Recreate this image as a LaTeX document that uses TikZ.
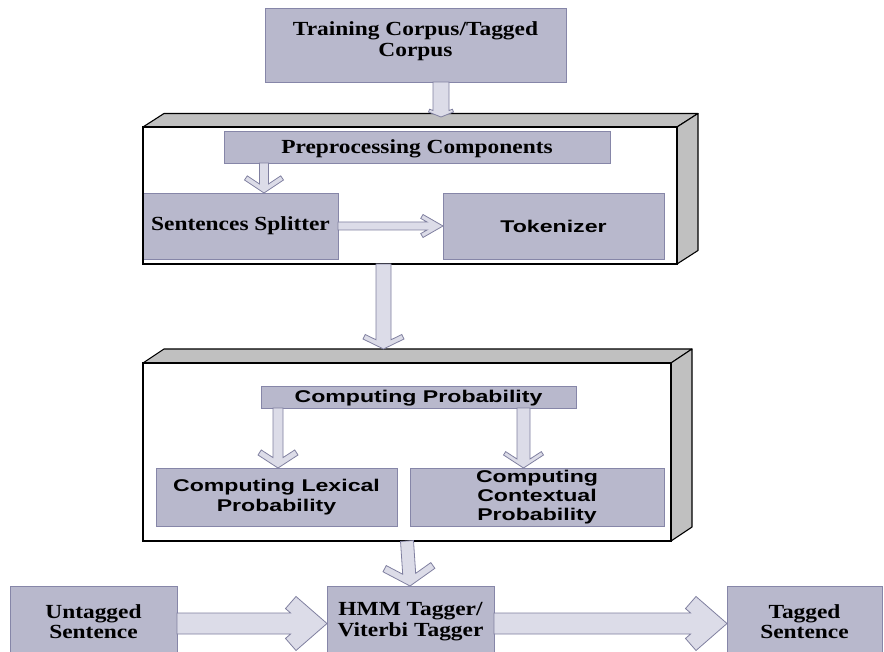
\documentclass[tikz,border=0pt]{standalone}
\usepackage{fontspec}
\setmainfont{Liberation Serif}[FakeStretch=1.17]
\newfontfamily\sansb{Liberation Sans}[FakeStretch=1.36]
\usetikzlibrary{calc}

\definecolor{boxfill}{HTML}{B8B8CC}
\definecolor{boxline}{HTML}{8686A8}
\definecolor{arrfill}{HTML}{DCDCE8}
\definecolor{arrline}{HTML}{8080A0}
\definecolor{sidegray}{HTML}{C0C0C0}

\tikzset{
  pbox/.style={draw=boxline, fill=boxfill, line width=0.8pt, inner sep=0pt, outer sep=0pt, align=center},
  serift/.style={font=\fontsize{20}{20.5}\selectfont\bfseries},
  sanst/.style={font=\sansb\fontsize{17}{19.3}\selectfont\bfseries},
  frontface/.style={fill=white, inner sep=0pt, outer sep=0pt},
  frontline/.style={draw=black, line width=1.1pt},
  sideface/.style={draw=black, fill=sidegray, line width=1.1pt, line join=round},
  blk/.style={draw=arrline, fill=arrfill, line width=0.8pt, line join=miter},
}

% #1 start, #2 tip, #3 shaft half width, #4 head half width, #5 head length, #6 chevron thickness
\newcommand\blockarrow[6]{%
  \path let \p1=(#1), \p2=(#2), \n1={atan2(\y2-\y1,\x2-\x1)}, \n2={veclen(\x2-\x1,\y2-\y1)} in
    \pgfextra{\xdef\barang{\n1}\xdef\barlen{\n2}};
  \pgfmathsetmacro\barn{sqrt((#5)*(#5)+(#4)*(#4))}%
  \pgfmathsetmacro\bsx{-((#6)*\barn+(#5)*(#3))/(#4)}%
  \pgfmathsetmacro\bbx{-(#5)-(#6)*(#4)/\barn}%
  \pgfmathsetmacro\bby{(#4)-(#6)*(#5)/\barn}%
  \begin{scope}[shift={(#2)}, rotate=\barang, x=1pt, y=1pt]
    \draw[blk] (-\barlen,#3) -- (\bsx,#3) -- (\bbx,\bby) -- (-#5,#4) -- (0,0)
      -- (-#5,-#4) -- (\bbx,-\bby) -- (\bsx,-#3) -- (-\barlen,-#3) -- cycle;
  \end{scope}}

\begin{document}
\begin{tikzpicture}[x=1pt, y=-1pt]
\clip (0,0) rectangle (884,652);
\fill[white] (0,0) rectangle (884,652);

% x positions of the arrows
\coordinate (xa) at (441,0);
\coordinate (xb) at (264,0);
\coordinate (xc) at (383.5,0);
\coordinate (xd) at (278,0);
\coordinate (xe) at (523.5,0);
\coordinate (xf) at (407,0);
\coordinate (xg) at (410,0);
\coordinate (ya) at (0,226);
\coordinate (yb) at (0,623.5);

% training corpus
\node[pbox, minimum width=301pt, minimum height=74pt] (train) at (415.5,45) {};
\node[serift, align=center, inner sep=0pt] (traintxt) at (415.5,41) {Training Corpus/Tagged\\Corpus};

% container 1
\node[frontface, minimum width=534pt, minimum height=137pt] (c1) at (410,195.5) {};
\draw[sideface] (c1.north west) -- ++(21pt,13.5pt) -- ($(c1.north east)+(21pt,13.5pt)$) -- (c1.north east) -- cycle;
\draw[sideface] (c1.north east) -- ++(21pt,13.5pt) -- ($(c1.south east)+(21pt,13.5pt)$) -- (c1.south east) -- cycle;

\node[pbox, minimum width=386pt, minimum height=32pt] (prep) at (417,147) {};
\node[serift, inner sep=0pt] (preptxt) at (417,148.5) {Preprocessing Components};
\node[pbox, serift, minimum width=195pt, minimum height=66pt] (split) at (240.5,226) {Sentences Splitter};
\node[pbox, sanst, minimum width=221pt, minimum height=66pt] (tok) at (553.5,226) {Tokenizer};
\draw[frontline] (c1.north west) rectangle (c1.south east);

% container 2
\node[frontface, minimum width=528pt, minimum height=178pt] (c2) at (407,452) {};
\draw[sideface] (c2.north west) -- ++(21pt,14pt) -- ($(c2.north east)+(21pt,14pt)$) -- (c2.north east) -- cycle;
\draw[sideface] (c2.north east) -- ++(21pt,14pt) -- ($(c2.south east)+(21pt,14pt)$) -- (c2.south east) -- cycle;
\coordinate (c2top) at ($(c2.north)+(0pt,14pt)$);

\node[pbox, minimum width=315pt, minimum height=22pt] (cprob) at (418.5,397) {};
\node[sanst, inner sep=0pt] (cprobtxt) at (418.5,398) {Computing Probability};
\node[pbox, sanst, minimum width=241pt, minimum height=58pt] (lex) at (276.5,497) {Computing Lexical\\Probability};
\node[pbox, sanst, minimum width=254pt, minimum height=58pt] (ctx) at (537,497) {Computing\\Contextual\\Probability};
\draw[frontline] (c2.north west) rectangle (c2.south east);

% bottom row
\node[pbox, minimum width=167pt, minimum height=75pt] (untag) at (93.5,623.5) {};
\node[pbox, minimum width=167pt, minimum height=75pt] (hmm) at (410.5,623.5) {};
\node[pbox, minimum width=155pt, minimum height=75pt] (tagged) at (804.5,623.5) {};
\node[serift, align=center, inner sep=0pt] (untagtxt) at (93.5,621.5) {Untagged\\Sentence};
\node[serift, align=center, inner sep=0pt] (hmmtxt) at (410.5,621.5) {HMM Tagger/\\Viterbi Tagger};
\node[serift, align=center, inner sep=0pt] (taggedtxt) at (804.5,621.5) {Tagged\\Sentence};

% arrows
\coordinate (t1) at (441,117);
\blockarrow{train.south -| xa}{t1}{8}{12.5}{5}{3}
\blockarrow{prep.south -| xb}{split.north -| xb}{4.5}{19.5}{13}{5}
\blockarrow{split.east |- ya}{tok.west |- ya}{4}{11.5}{20}{4.5}
\blockarrow{c1.south -| xc}{c2top -| xc}{7.5}{20.5}{10}{5}
\blockarrow{cprob.south -| xd}{lex.north -| xd}{5}{20}{13}{6}
\blockarrow{cprob.south -| xe}{ctx.north -| xe}{6.5}{20}{13}{4}
\blockarrow{c2.south -| xf}{hmm.north -| xg}{6.5}{26}{16}{7}
\blockarrow{untag.east |- yb}{hmm.west |- yb}{10.5}{27}{31}{16}
\blockarrow{hmm.east |- yb}{tagged.west |- yb}{10.5}{27}{31}{16}
\end{tikzpicture}
\end{document}
